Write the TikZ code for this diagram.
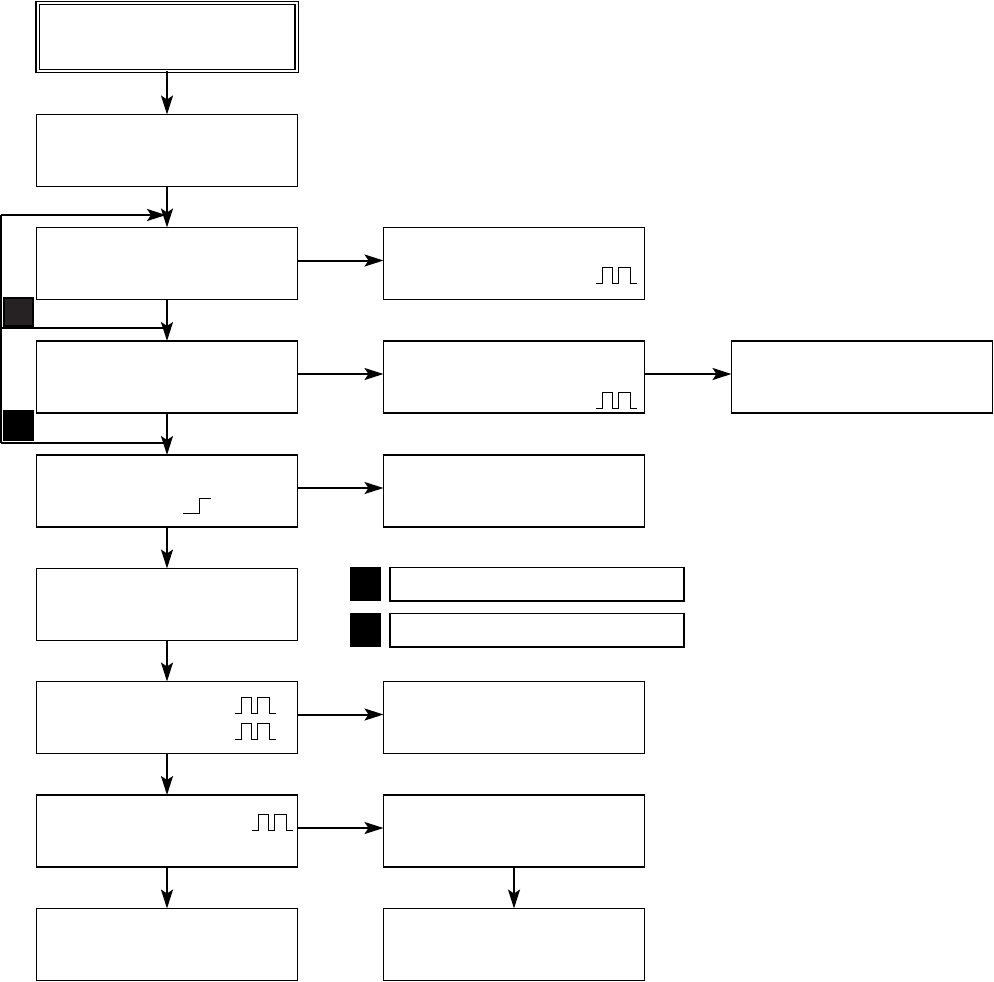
\documentclass[tikz,border=0pt]{standalone}
\usetikzlibrary{arrows.meta}

\tikzset{
    box/.style={draw, line width=0.8pt, minimum width=130.5pt,
        minimum height=36pt, inner sep=0pt, outer sep=0pt},
    legendbox/.style={draw, line width=0.8pt, minimum width=147pt,
        minimum height=16.7pt, inner sep=0pt, outer sep=0pt},
    tagbox/.style={draw, fill=black, line width=0.6pt, minimum width=14.5pt,
        minimum height=16.5pt, inner sep=0pt},
    flow/.style={line width=1pt, -{Stealth[length=9.5pt,width=6pt,inset=2pt]}},
    wire/.style={line width=1pt},
    pulse/.pic={
        \draw[line width=0.5pt] (0,0) -- (6,0) -- (6,-16) -- (16,-16) -- (16,0)
            -- (22,0) -- (22,-16) -- (34,-16) -- (34,0) -- (41,0);
    }
}
\definecolor{darktag}{RGB}{38,34,35}

\begin{document}
\begin{tikzpicture}[x=0.5pt, y=-0.5pt]
    \useasboundingbox (0,0) rectangle (994,981);

    % left column
    \node[box, double, double distance=1pt, line width=0.6pt,
        minimum width=129.5pt, minimum height=34pt] (b1) at (167,37) {};
    \node[box] (b2) at (167,150.5) {};
    \node[box] (b3) at (167,263.5) {};
    \node[box] (b4) at (167,377) {};
    \node[box] (b5) at (167,491) {};
    \node[box] (b6) at (167,604.5) {};
    \node[box] (b7) at (167,717.5) {};
    \node[box] (b8) at (167,831) {};
    \node[box] (b9) at (167,944.5) {};

    % middle and right column
    \node[box] (m3) at (514,263.5) {};
    \node[box] (m4) at (514,377) {};
    \node[box] (m5) at (514,491) {};
    \node[box] (m7) at (514,717.5) {};
    \node[box] (m8) at (514,831) {};
    \node[box] (m9) at (514,944.5) {};
    \node[box] (r4) at (862,377) {};

    % legend
    \node[tagbox] (key1) at (365.5,584) {};
    \node[tagbox] (key2) at (365.5,630) {};
    \node[legendbox] (leg1) at (537,584) {};
    \node[legendbox] (leg2) at (537,630) {};

    % loop tags
    \node[tagbox, fill=darktag, minimum height=14pt] (tag1) at (18.5,312) {};
    \node[tagbox, minimum height=14.5pt] (tag2) at (18.5,425.5) {};

    % down the columns
    \draw[flow] (b1) -- (b2);
    \draw[flow] (b2) -- (b3);
    \draw[flow] (b3) -- (b4);
    \draw[flow] (b4) -- (b5);
    \draw[flow] (b5) -- (b6);
    \draw[flow] (b6) -- (b7);
    \draw[flow] (b7) -- (b8);
    \draw[flow] (b8) -- (b9);
    \draw[flow] (m8) -- (m9);

    % to the right, a little above the middle
    \draw[flow] ([yshift=1.5pt]b3.east) -- ([yshift=1.5pt]m3.west);
    \draw[flow] ([yshift=1.5pt]b4.east) -- ([yshift=1.5pt]m4.west);
    \draw[flow] ([yshift=1.5pt]m4.east) -- ([yshift=1.5pt]r4.west);
    \draw[flow] ([yshift=1.5pt]b5.east) -- ([yshift=1.5pt]m5.west);
    \draw[flow] ([yshift=1.5pt]b7.east) -- ([yshift=1.5pt]m7.west);
    \draw[flow] ([yshift=1.5pt]b8.east) -- ([yshift=1.5pt]m8.west);

    % return loop
    \coordinate (loopA) at (1,215);
    \coordinate (loopB) at (1,328);
    \coordinate (loopC) at (1,443);
    \coordinate (joinA) at (166,215);
    \coordinate (joinB) at (167,328);
    \coordinate (joinC) at (167,443);
    \draw[wire] (loopA) -- (loopC);
    \draw[flow] (loopA) -- (joinA);
    \draw[wire] (loopB) -- (joinB);
    \draw[wire] (loopC) -- (joinC);

    % waveforms
    \pic at (596,283) {pulse};
    \pic at (596,408) {pulse};
    \pic at (235,713) {pulse};
    \pic at (235,739) {pulse};
    \pic at (252,830) {pulse};
    \draw[line width=0.5pt] (183,513) -- (199,513) -- (199,498) -- (211,498);
\end{tikzpicture}
\end{document}
